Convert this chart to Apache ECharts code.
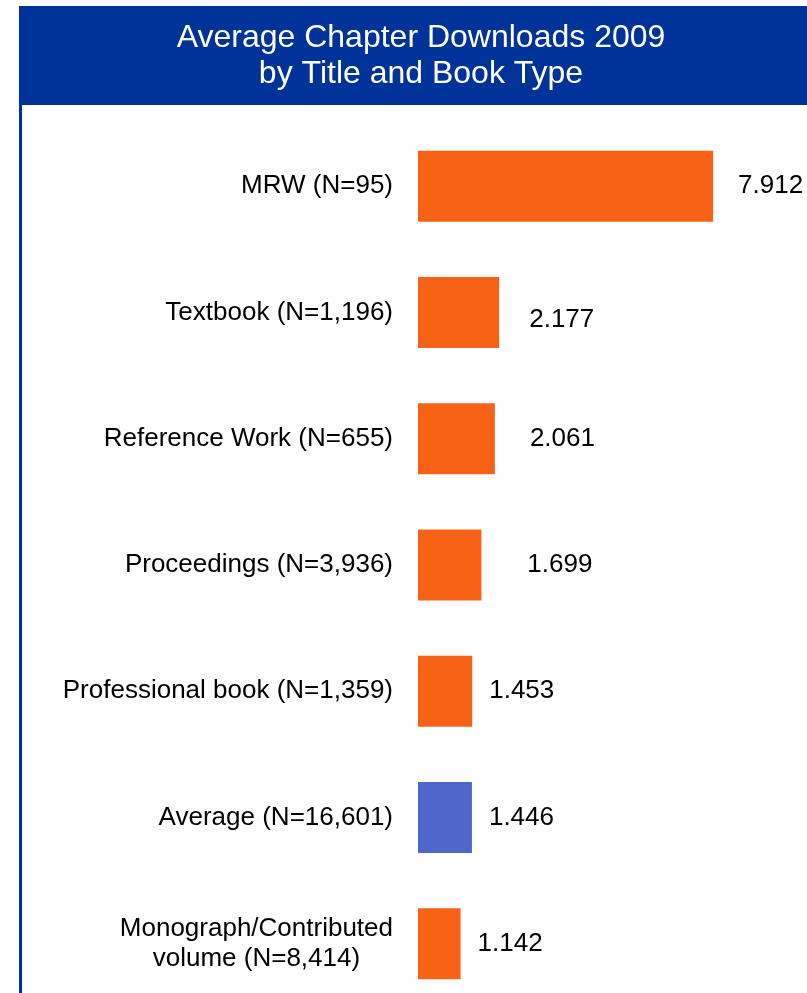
<!DOCTYPE html>
<html>
<head>
<meta charset="utf-8">
<style>
  html, body { margin: 0; padding: 0; background: #ffffff; overflow: hidden; }
  #chart { width: 807px; height: 1020px; }
</style>
<script src="https://cdn.jsdelivr.net/npm/echarts@6/dist/echarts.min.js"></script>
</head>
<body>
<div id="chart"></div>
<script>
// Book types, top to bottom
const categories = [
  'MRW (N=95)',
  'Textbook (N=1,196)',
  'Reference Work (N=655)',
  'Proceedings (N=3,936)',
  'Professional book (N=1,359)',
  'Average (N=16,601)',
  'Monograph/Contributed\nvolume (N=8,414)'
];
// Average chapter downloads per title
const downloads = [7.912, 2.177, 2.061, 1.699, 1.453, 1.446, 1.142];
// The overall average row is highlighted
const highlightIndex = 5;

const ORANGE = '#F86216';
const BLUE = '#4F67CB';
const NAVY = '#003399';
const FONT = '"Liberation Sans", Arial, sans-serif';

// gap between bar end and its value label, per row
const labelGap = [25, 30, 35, 46, 17, 17, 17];
const labelShift = [0, 7, 0, 0, 0, 0, 0];

const chart = echarts.init(document.getElementById('chart'), null, { renderer: 'canvas' });

chart.setOption({
  animation: false,
  backgroundColor: '#ffffff',
  graphic: [
    {
      type: 'rect',
      shape: { x: 20, y: 6, width: 787, height: 99 },
      style: { fill: NAVY },
      silent: true
    },
    {
      type: 'rect',
      shape: { x: 19, y: 6, width: 3, height: 1014 },
      style: { fill: NAVY },
      silent: true
    },
    {
      type: 'text',
      x: 421,
      y: 56,
      style: {
        text: 'Average Chapter Downloads 2009\nby Title and Book Type',
        fill: '#ffffff',
        font: '32px ' + FONT,
        align: 'center',
        verticalAlign: 'middle',
        lineHeight: 36
      },
      silent: true
    }
  ],
  grid: { left: 418, top: 123, width: 373, height: 884, containLabel: false },
  xAxis: {
    type: 'value',
    min: 0,
    max: 10,
    show: false
  },
  yAxis: {
    type: 'category',
    data: categories,
    inverse: true,
    axisLine: { show: false },
    axisTick: { show: false },
    splitLine: { show: false },
    axisLabel: {
      margin: 25,
      formatter: function (v) {
        return v.split('\n').map(function (s) { return '{c|' + s + '}'; }).join('\n');
      },
      rich: {
        c: {
          fontFamily: FONT,
          fontSize: 26,
          color: '#000000',
          align: 'center',
          lineHeight: 30
        }
      }
    }
  },
  series: [
    {
      type: 'bar',
      barWidth: 71,
      data: downloads.map(function (v, i) {
        return {
          value: v,
          itemStyle: { color: i === highlightIndex ? BLUE : ORANGE },
          label: { distance: labelGap[i], offset: [0, labelShift[i]] }
        };
      }),
      label: {
        show: true,
        position: 'right',
        fontFamily: FONT,
        fontSize: 26,
        color: '#000000',
        formatter: function (p) { return p.value.toFixed(3); }
      }
    }
  ]
});
</script>
</body>
</html>
